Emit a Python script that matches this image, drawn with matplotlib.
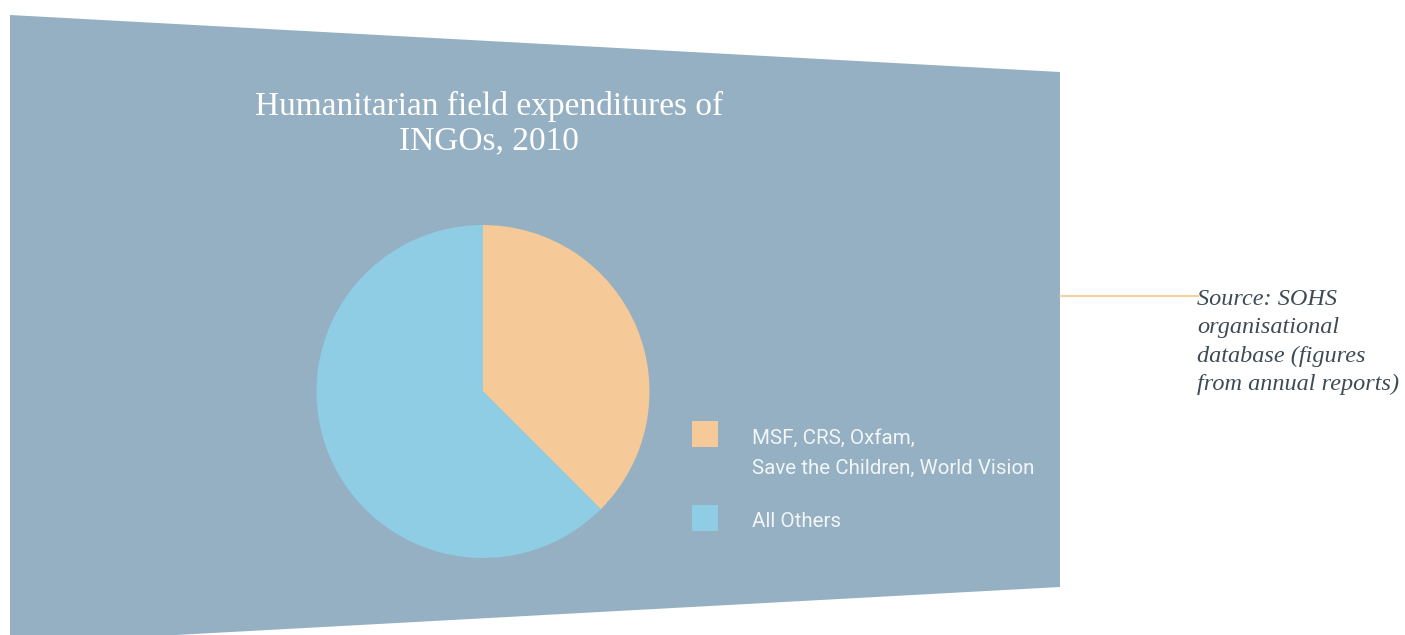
import matplotlib
matplotlib.use("Agg")
import matplotlib.pyplot as plt
from matplotlib.patches import Polygon, Rectangle

# Data
categories = ["MSF, CRS, Oxfam,\nSave the Children, World Vision", "All Others"]
shares = [37.5, 62.5]
colors = ["#F5C998", "#8ECDE4"]
title = "Humanitarian field expenditures of\nINGOs, 2010"
source = "Source: SOHS\norganisational\ndatabase (figures\nfrom annual reports)"

W, H = 1405, 635
fig = plt.figure(figsize=(W / 100, H / 100), dpi=100)
fig.patch.set_facecolor("white")

# Background axes in pixel coordinates (y down)
bg = fig.add_axes([0, 0, 1, 1])
bg.set_xlim(0, W)
bg.set_ylim(H, 0)
bg.axis("off")

panel = Polygon([(10, 15), (1060, 72), (1060, 587), (10, 644)],
                closed=True, facecolor="#95B0C2", edgecolor="none")
bg.add_patch(panel)

bg.text(489, 91, title, ha="center", va="top", color="white",
        fontsize=24, family="Liberation Serif", linespacing=1.16)

# Connector line and source note
bg.plot([1060, 1198], [296, 296], color="#F5C998", lw=1.3)
bg.text(1197, 289, source, ha="left", va="top", color="#3E4B55",
        fontsize=17.5, family="Liberation Serif", style="italic",
        linespacing=1.45)

# Legend
legend_rows = [(421, 429), (505, 512)]
legend_texts = []
for (sq_top, txt_top), lab, col in zip(legend_rows, categories, colors):
    bg.add_patch(Rectangle((692, sq_top), 26, 26, facecolor=col, edgecolor="none"))
    t = bg.text(752, txt_top, lab, ha="left", va="top", color="#F2F6F8",
                fontsize=15, family="Roboto", weight="normal",
                linespacing=1.75)
    legend_texts.append(t)

# Size legend text so the longest line spans the legend column width
fig.canvas.draw()
renderer = fig.canvas.get_renderer()
w = legend_texts[0].get_window_extent(renderer).width
scale = 282 / w
for t in legend_texts:
    t.set_fontsize(15 * scale)

# Pie
cx, cy, r = 483, 391.5, 166.5
pie_ax = fig.add_axes([(cx - r) / W, 1 - (cy + r) / H, 2 * r / W, 2 * r / H])
pie_ax.pie(shares, colors=colors, startangle=90, counterclock=False,
           radius=1, wedgeprops=dict(linewidth=0))
pie_ax.set_xlim(-1, 1)
pie_ax.set_ylim(-1, 1)
pie_ax.set_aspect("equal")
pie_ax.axis("off")

fig.savefig("out.png", dpi=100, facecolor="white")
